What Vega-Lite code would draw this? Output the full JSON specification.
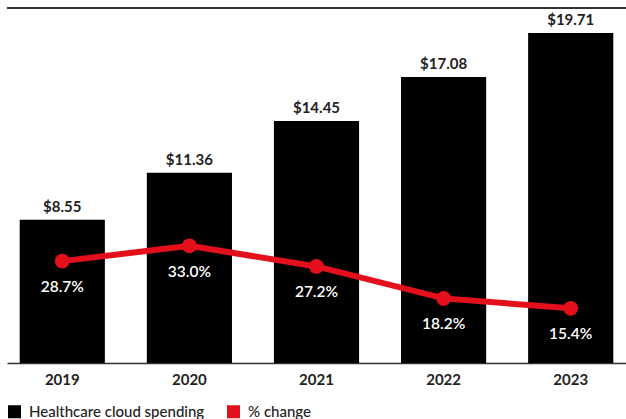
{
  "$schema": "https://vega.github.io/schema/vega-lite/v6.json",
  "width": 619,
  "height": 355,
  "autosize": "none",
  "padding": {"left": 7, "top": 8, "right": 0, "bottom": 56},
  "config": {
    "view": {"stroke": null},
    "font": "Lato",
    "legend": {"symbolType": "square"},
    "axisX": {
      "title": null,
      "labelAngle": 0,
      "ticks": false,
      "domainColor": "#333333",
      "domainWidth": 1.5,
      "labelPadding": 9,
      "labelFontSize": 15,
      "labelFontWeight": "bold",
      "labelColor": "#222222"
    },
    "scale": {"bandPaddingInner": 0.33, "bandPaddingOuter": 0.1}
  },
  "data": {
    "values": [
      {"year": "2019", "spending": 8.55, "change": 28.7},
      {"year": "2020", "spending": 11.36, "change": 33.0},
      {"year": "2021", "spending": 14.45, "change": 27.2},
      {"year": "2022", "spending": 17.08, "change": 18.2},
      {"year": "2023", "spending": 19.71, "change": 15.4}
    ]
  },
  "layer": [
    {
      "mark": {"type": "bar", "color": "#000000"},
      "encoding": {
        "x": {"field": "year", "type": "ordinal"},
        "y": {"field": "spending", "type": "quantitative", "scale": {"domain": [0, 21.2]}, "axis": null},
        "color": {
          "datum": "Healthcare cloud spending",
          "scale": {"domain": ["Healthcare cloud spending", "% change"], "range": ["#000000", "#e3101b"]},
          "legend": {
            "title": null,
            "orient": "none",
            "direction": "horizontal",
            "legendX": 0,
            "legendY": 396,
            "symbolSize": 169,
            "symbolStrokeWidth": 0,
            "symbolOpacity": 1,
            "labelFontSize": 15,
            "labelColor": "#222222",
            "labelFontWeight": 500,
            "labelOffset": 7,
            "labelLimit": 400,
            "columnPadding": 21
          }
        }
      }
    },
    {
      "mark": {"type": "text", "baseline": "bottom", "dy": -5, "fontSize": 15, "fontWeight": "bold", "color": "#222222"},
      "encoding": {
        "x": {"field": "year", "type": "ordinal"},
        "y": {"field": "spending", "type": "quantitative", "scale": {"domain": [0, 21.2]}, "axis": null},
        "text": {"field": "spending", "type": "quantitative", "format": "$.2f"}
      }
    },
    {
      "mark": {"type": "rule", "color": "#333333", "strokeWidth": 1.5},
      "encoding": {
        "y": {"datum": 21.2, "type": "quantitative", "scale": {"domain": [0, 21.2]}, "axis": null}
      }
    },
    {
      "mark": {"type": "line", "strokeWidth": 6},
      "encoding": {
        "x": {"field": "year", "type": "ordinal"},
        "y": {"field": "change", "type": "quantitative", "scale": {"domain": [0, 100]}, "axis": null},
        "color": {"datum": "% change"}
      }
    },
    {
      "mark": {"type": "point", "filled": true, "size": 220, "opacity": 1},
      "encoding": {
        "x": {"field": "year", "type": "ordinal"},
        "y": {"field": "change", "type": "quantitative", "scale": {"domain": [0, 100]}, "axis": null},
        "color": {"datum": "% change"}
      }
    },
    {
      "transform": [
        {"calculate": "format(datum.change, '.1f') + '%'", "as": "changeLabel"}
      ],
      "mark": {"type": "text", "baseline": "middle", "dy": 26, "fontSize": 15.5, "fontWeight": 600, "color": "#ffffff"},
      "encoding": {
        "x": {"field": "year", "type": "ordinal"},
        "y": {"field": "change", "type": "quantitative", "scale": {"domain": [0, 100]}, "axis": null},
        "text": {"field": "changeLabel", "type": "nominal"}
      }
    }
  ],
  "resolve": {"scale": {"y": "independent"}}
}
